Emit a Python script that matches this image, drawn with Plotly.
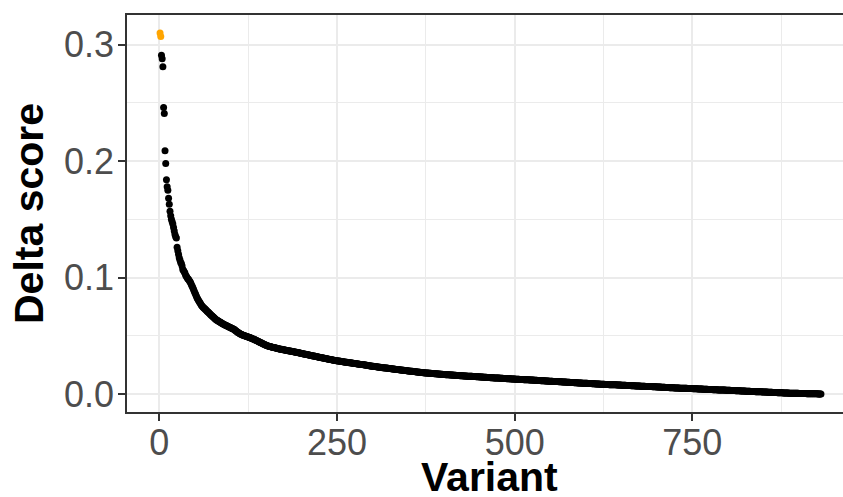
import plotly.graph_objects as go

# Delta score values, sorted descending, in units of 1e-4
delta_e4 = [
    3100, 3070, 2910, 2880, 2810, 2460, 2410, 2090, 1980, 1840,
    1780, 1750, 1680, 1630, 1570, 1530, 1500, 1480, 1460, 1430,
    1400, 1370, 1350, 1340, 1260, 1230, 1200, 1170, 1150, 1130,
    1120, 1100, 1070, 1060, 1050, 1040, 1020, 1010, 1000, 990,
    985, 975, 965, 955, 941, 928, 914, 900, 885, 870,
    856, 841, 826, 815, 805, 795, 785, 775, 765, 755,
    749, 743, 737, 731, 725, 719, 713, 707, 701, 695,
    689, 683, 677, 672, 666, 661, 655, 649, 644, 638,
    634, 630, 627, 623, 619, 615, 612, 608, 604, 600,
    597, 594, 591, 588, 585, 582, 579, 576, 573, 570,
    567, 564, 561, 558, 555, 551, 546, 541, 536, 531,
    527, 523, 519, 515, 512, 510, 507, 505, 503, 500,
    498, 496, 493, 491, 489, 487, 484, 482, 480, 477,
    475, 473, 470, 467, 464, 461, 458, 455, 452, 449,
    446, 443, 440, 437, 434, 431, 428, 425, 422, 419,
    416, 413, 411, 410, 408, 407, 405, 404, 402, 400,
    399, 397, 396, 394, 393, 391, 390, 388, 387, 385,
    384, 383, 381, 380, 379, 378, 377, 375, 374, 373,
    372, 371, 370, 368, 367, 366, 365, 364, 362, 361,
    360, 359, 358, 356, 355, 354, 352, 351, 350, 348,
    347, 346, 344, 343, 342, 340, 339, 338, 336, 335,
    334, 333, 331, 330, 329, 327, 326, 325, 323, 322,
    321, 319, 318, 317, 315, 314, 313, 312, 310, 309,
    308, 307, 305, 304, 303, 302, 300, 299, 298, 296,
    295, 294, 293, 291, 290, 289, 288, 287, 286, 285,
    284, 283, 282, 281, 280, 279, 278, 277, 276, 275,
    274, 273, 272, 272, 271, 270, 269, 268, 267, 266,
    265, 264, 263, 262, 261, 261, 260, 259, 258, 257,
    256, 255, 254, 253, 252, 252, 251, 250, 249, 248,
    247, 246, 245, 244, 243, 242, 241, 240, 239, 238,
    237, 236, 235, 235, 234, 233, 232, 231, 230, 230,
    229, 228, 227, 226, 226, 225, 224, 223, 222, 222,
    221, 220, 219, 218, 218, 217, 216, 215, 214, 214,
    213, 212, 211, 210, 210, 209, 208, 207, 206, 206,
    205, 204, 204, 203, 202, 201, 201, 200, 199, 198,
    198, 197, 196, 195, 195, 194, 193, 192, 192, 191,
    190, 189, 189, 188, 187, 187, 186, 185, 184, 184,
    183, 182, 182, 181, 180,
    180, 179, 179, 178, 178, 177, 177, 176, 176, 175,
    175, 174, 174, 173, 173, 172, 172, 171, 171, 170,
    170, 169, 169, 168, 168, 167, 167, 166, 166, 165,
    165, 164, 164, 163, 163, 162, 162, 162, 161, 161,
    160, 160, 159, 159, 159,
    158, 158, 157, 157, 157, 156, 156, 155, 155, 155,
    154, 154, 153, 153, 153, 152, 152, 151, 151, 151,
    150, 150, 149, 149, 149, 148, 148, 147, 147, 147,
    146, 146, 145, 145, 145, 144, 144, 143, 143, 143,
    142, 142, 141, 141, 141, 140, 140, 140, 139, 139,
    138, 138, 138, 137, 137, 136, 136, 136, 135, 135,
    135, 134, 134, 133, 133, 133, 132, 132, 131, 131,
    131, 130, 130, 130, 129, 129, 129, 128, 128, 128,
    127, 127, 127, 126, 126, 126, 125, 125, 125, 124,
    124, 124, 123, 123, 123, 122, 122, 121, 121, 121,
    120, 120, 120, 119, 119, 119, 118, 118, 117, 117,
    117, 116, 116, 116, 115, 115, 114, 114, 114, 113,
    113, 113, 112, 112, 111, 111, 111, 110, 110, 110,
    109, 109, 109, 108, 108, 107, 107, 107, 106, 106,
    106, 105, 105, 105, 104, 104, 103, 103, 103, 102,
    102, 102, 101, 101, 100, 100, 100, 99, 99, 99,
    98, 98, 98, 97, 97, 96, 96, 96, 95, 95,
    95, 94, 94, 94, 93, 93, 93, 92, 92, 91,
    91, 91, 90, 90, 90, 89, 89, 89, 88, 88,
    88, 87, 87, 86, 86, 86, 85, 85, 85, 84,
    84, 84, 83, 83, 83,
    83, 82, 82, 82, 81, 81, 81, 80, 80, 80,
    80, 79, 79, 79, 78, 78, 78, 78, 77, 77,
    77, 76, 76, 76, 75, 75, 75, 75, 74, 74,
    74, 73, 73, 73, 72, 72, 72, 72, 71, 71,
    71, 70, 70, 70, 69, 69, 69, 69, 68, 68,
    68, 67, 67, 67, 66, 66, 66, 66, 65, 65,
    65, 64, 64, 64, 63, 63, 63, 63, 62, 62,
    62, 61, 61, 61, 60, 60, 60, 59, 59, 59,
    58, 58, 58, 57, 57, 57, 56, 56, 56, 55,
    55, 55, 54, 54, 54, 54, 53, 53, 53, 52,
    52, 52, 52, 51, 51, 51, 50, 50, 50, 50,
    49, 49, 49, 48, 48, 48, 48, 47, 47, 47,
    47, 46, 46, 46, 46,
    45, 45, 45, 45, 44, 44, 44, 43, 43, 43,
    43, 42, 42, 42, 41, 41, 41, 41, 40, 40,
    40, 39, 39, 39, 39, 38, 38, 38, 37, 37,
    37, 37, 36, 36, 36, 35, 35, 35, 35, 34,
    34, 34, 33, 33, 33, 33, 32, 32, 32, 31,
    31, 31, 31, 30, 30, 30, 29, 29, 29, 29,
    28, 28, 28, 27, 27, 27, 27, 26, 26, 26,
    25, 25, 25, 25, 24, 24, 24, 23, 23, 23,
    23, 22, 22, 22, 21, 21, 21, 21, 20, 20,
    20, 19, 19, 19, 19, 18, 18, 18, 17, 17,
    17, 17, 16, 16, 16, 15, 15, 15, 15, 14,
    14, 14, 13, 13, 13, 13, 12, 12, 12, 11,
    11, 11, 11, 10, 10,
    10, 10, 9, 9, 9, 9, 8, 8, 8, 8,
    7, 7, 7, 7, 6, 6, 6, 6, 6, 5,
    5, 5, 5, 5, 4, 4, 4, 4, 4, 3,
    3, 3, 3, 3, 3, 2, 2, 2, 2, 2,
    2, 2, 1, 1, 1, 1, 1, 1, 1, 1,
    1, 0, 0, 0, 0, 0,
]
n_highlight = 2  # top variants drawn in orange

delta = [v / 10000 for v in delta_e4]
variant = list(range(1, len(delta) + 1))

x_ticks = [0, 250, 500, 750]
x_minor = [125, 375, 625, 875]
y_ticks = [0.0, 0.1, 0.2, 0.3]
y_tick_labels = ["0.0", "0.1", "0.2", "0.3"]
y_minor = [0.05, 0.15, 0.25]

fig = go.Figure()
fig.add_trace(go.Scatter(
    x=variant[n_highlight:], y=delta[n_highlight:], mode="markers",
    marker=dict(color="black", size=7, line=dict(width=0)),
    showlegend=False, hoverinfo="skip"))
fig.add_trace(go.Scatter(
    x=variant[:n_highlight], y=delta[:n_highlight], mode="markers",
    marker=dict(color="#FFA500", size=7, line=dict(width=0)),
    showlegend=False, hoverinfo="skip"))

tick_font = dict(family="Liberation Sans, Arial, sans-serif", size=36, color="#4D4D4D")
title_font = dict(family="Liberation Sans, Arial, sans-serif", size=41, color="black")

fig.update_layout(
    width=843, height=497, autosize=False,
    margin=dict(l=127, r=0, t=15, b=85, autoexpand=False),
    plot_bgcolor="white", paper_bgcolor="white",
    xaxis=dict(
        range=[-45.5, 962], tickmode="array", tickvals=x_ticks,
        automargin=False,
        showgrid=True, gridcolor="#EBEBEB", gridwidth=2,
        minor=dict(tickmode="array", tickvals=x_minor, showgrid=True,
                   gridcolor="#EBEBEB", gridwidth=1.1, ticks=""),
        ticks="outside", ticklen=7, tickwidth=1.5, tickcolor="#333333",
        ticklabelstandoff=-9,
        showline=True, linecolor="#333333", linewidth=1.5, mirror=True,
        zeroline=False, tickfont=tick_font,
    ),
    yaxis=dict(
        range=[-0.0155, 0.3255], tickmode="array", tickvals=y_ticks,
        ticktext=y_tick_labels, automargin=False,
        showgrid=True, gridcolor="#EBEBEB", gridwidth=2,
        minor=dict(tickmode="array", tickvals=y_minor, showgrid=True,
                   gridcolor="#EBEBEB", gridwidth=1.1, ticks=""),
        ticks="outside", ticklen=7, tickwidth=1.5, tickcolor="#333333",
        ticklabelstandoff=-3,
        showline=True, linecolor="#333333", linewidth=1.5, mirror=False,
        zeroline=False, tickfont=tick_font,
    ),
    annotations=[
        dict(text="<b>Variant</b>", xref="paper", yref="paper",
             x=(489 - 127) / 716, y=(412 - 477) / 397,
             xanchor="center", yanchor="middle", showarrow=False, font=title_font),
        dict(text="<b>Delta score</b>", xref="paper", yref="paper",
             x=(28.5 - 127) / 716, y=0.5, textangle=-90,
             xanchor="center", yanchor="middle", showarrow=False, font=title_font),
    ],
)

fig.write_html(
    "out.html",
    config={"responsive": False, "displayModeBar": False},
    post_script="document.body.style.margin='0';document.body.style.overflow='hidden';",
)
